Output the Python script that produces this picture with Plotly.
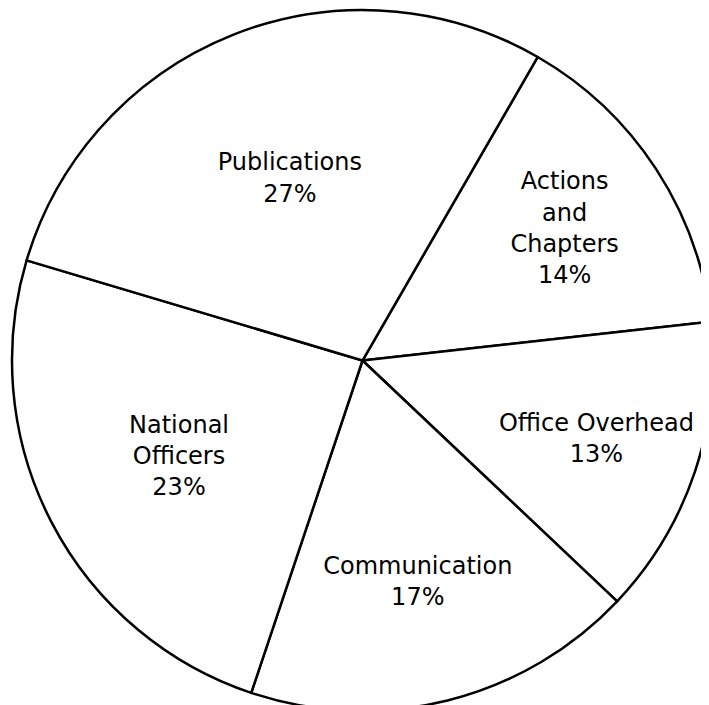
import plotly.graph_objects as go

categories = ["Actions<br>and<br>Chapters", "Office Overhead", "Communication", "National<br>Officers", "Publications"]
values = [14, 13, 17, 23, 27]

fig = go.Figure(go.Pie(
    labels=categories,
    values=values,
    sort=False,
    direction="clockwise",
    rotation=30,
    texttemplate="%{label}<br>%{value}%",
    textposition="inside",
    insidetextorientation="horizontal",
    textfont=dict(family="DejaVu Sans", size=24, color="black"),
    marker=dict(colors=["white"] * 5, line=dict(color="black", width=2.5)),
    showlegend=False,
    hoverinfo="label+value",
))
fig.update_layout(
    width=709, height=705,
    margin=dict(l=2, r=2, t=2, b=2),
    paper_bgcolor="white",
    plot_bgcolor="white",
    uniformtext=dict(minsize=14, mode="show"),
)
fig.write_html("out.html")
